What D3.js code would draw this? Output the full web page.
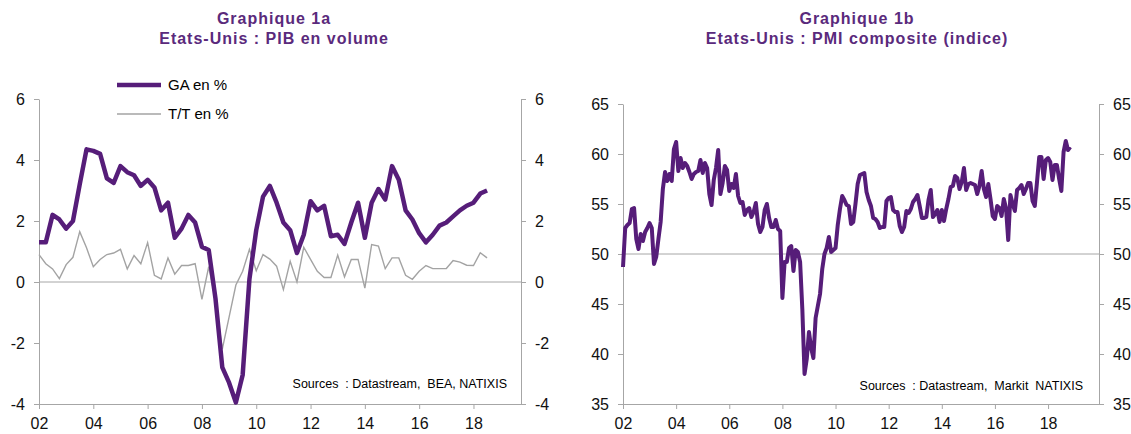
<!DOCTYPE html>
<html>
<head>
<meta charset="utf-8">
<script src="https://cdnjs.cloudflare.com/ajax/libs/d3/7.8.5/d3.min.js"></script>
<style>
  body { margin: 0; background: #fff; }
  svg text { font-family: "Liberation Sans", Arial, sans-serif; }
  .axis path, .axis line { stroke: #a6a6a6; stroke-width: 1; }
  .axis text { font-size: 16px; fill: #111; }
</style>
</head>
<body>
<div id="main"></div>
<script>
// x ticks (both charts), every 2 years
var yearTicks = [2002, 2004, 2006, 2008, 2010, 2012, 2014, 2016, 2018]

// Graphique 1a : quarterly, 2002Q1 -> 2018Q3
var gaValues = [
  1.3, 1.3, 2.2, 2.05,
  1.75, 2.0, 3.2, 4.35,
  4.3, 4.2, 3.4, 3.25,
  3.8, 3.6, 3.5, 3.15,
  3.35, 3.1, 2.35, 2.6,
  1.45, 1.75, 2.2, 1.95,
  1.15, 1.05, -0.55, -2.8,
  -3.3, -3.95, -3.05, 0.1,
  1.7, 2.8, 3.15, 2.6,
  1.95, 1.7, 0.95, 1.55,
  2.65, 2.35, 2.5, 1.5,
  1.55, 1.25, 1.95, 2.6,
  1.45, 2.6, 3.05, 2.7,
  3.8, 3.35, 2.35, 2.05,
  1.6, 1.3, 1.55, 1.85,
  1.95, 2.15, 2.35, 2.5,
  2.6, 2.9, 3.0
]
var ttValues = [
  0.9, 0.6, 0.43, 0.11,
  0.57, 0.81, 1.65, 1.12,
  0.5, 0.74, 0.9, 0.95,
  1.07, 0.43, 0.87, 0.6,
  1.29, 0.22, 0.1, 0.79,
  0.26, 0.54, 0.54, 0.6,
  -0.57, 0.5, -0.6, -2.2,
  -1.15, -0.1, 0.35, 1.07,
  0.37, 0.9, 0.75, 0.52,
  -0.25, 0.68, 0.0, 1.14,
  0.74, 0.35, 0.15, 0.15,
  0.88, 0.17, 0.74, 0.74,
  -0.2, 1.23, 1.18, 0.44,
  0.79, 0.79, 0.22, 0.09,
  0.35, 0.54, 0.44, 0.44,
  0.44, 0.7, 0.65, 0.55,
  0.54, 0.96, 0.79
]
var leftTicks = [-4, -2, 0, 2, 4, 6]

// Graphique 1b : monthly, Jan 2002 -> Nov 2018
var pmiValues = [
  48.7, 52.6, 52.9, 53.1, 54.5, 54.6, 51.5, 50.5, 52.0, 51.3, 52.2, 52.6,
  53.1, 52.6, 49.0, 49.7, 51.5, 53.2, 56.5, 58.2, 57.3, 58.0, 57.3, 60.5,
  61.2, 58.3, 59.6, 58.6, 59.1, 58.8, 58.2, 57.5, 58.0, 58.2, 58.3, 59.4,
  58.1, 59.1, 58.6, 56.0, 54.9, 57.4, 58.6, 60.4, 56.0, 57.1, 58.8, 58.4,
  56.3, 57.0, 56.6, 58.0, 55.8, 55.1, 55.2, 53.9, 54.4, 54.6, 53.7, 54.2,
  55.1, 53.0, 52.2, 52.7, 54.4, 55.0, 53.6, 52.7, 52.7, 53.4, 52.5, 52.3,
  45.6, 49.2, 49.2, 50.6, 50.8, 48.3, 50.4, 50.2, 49.2, 44.5, 38.0, 39.5,
  42.2, 40.6, 39.6, 43.6, 44.8, 46.0, 48.5, 50.0, 50.6, 51.7, 50.2, 50.4,
  50.6, 52.9, 54.5, 55.8, 55.4, 54.9, 54.8, 53.0, 53.2, 55.0, 57.0, 57.9,
  58.0, 58.1, 56.2, 55.4, 54.8, 53.6, 53.5, 53.2, 52.6, 52.7, 52.7, 55.3,
  55.6, 55.7, 54.4, 54.2, 54.2, 52.8, 52.2, 52.7, 54.3, 54.1, 54.5, 55.2,
  55.5, 55.9, 54.8, 53.6, 53.6, 53.7, 55.4, 56.4, 53.7, 54.0, 54.4, 53.2,
  54.4, 53.3, 54.5, 55.5, 56.7, 56.8, 57.8, 57.6, 56.5, 57.2, 58.6, 56.4,
  57.0, 57.1, 57.0, 56.9, 56.0, 56.8, 58.3, 56.5, 55.7, 57.0, 55.5, 53.8,
  53.5, 54.8, 54.6, 53.8, 55.5, 54.6, 51.4, 55.9, 55.0, 54.3, 56.4, 56.6,
  56.9, 56.0, 56.5, 57.1, 57.1, 55.3, 54.8, 57.2, 59.7, 59.7, 57.5, 59.4,
  59.6, 59.2, 57.4, 58.9, 58.9, 57.5, 56.3, 60.2, 61.3, 60.4, 60.7
]
var rightTicks = [35, 40, 45, 50, 55, 60, 65]

var purple = "#561d79"
var titleColor = "#5a2a7c"

var SVG = d3.select("#main")
            .append("svg")
            .attr("width", 1131)
            .attr("height", 434)

var yearLabel = function(d){ return String(d).slice(2) }
var plainNum = function(d){ return String(d) }   // keep "-" not the unicode minus

function drawFrame(box, x, y, ticks){
  SVG.append("g")
     .attr("class", "axis")
     .attr("transform", "translate(0," + box.bottom + ")")
     .call(d3.axisBottom(x).tickValues(yearTicks).tickFormat(yearLabel)
             .tickSizeInner(5).tickSizeOuter(0).tickPadding(9))
  SVG.append("g")
     .attr("class", "axis")
     .attr("transform", "translate(" + box.left + ",0)")
     .call(d3.axisLeft(y).tickValues(ticks).tickFormat(plainNum)
             .tickSizeInner(5).tickSizeOuter(0).tickPadding(9))
  SVG.append("g")
     .attr("class", "axis")
     .attr("transform", "translate(" + box.right + ",0)")
     .call(d3.axisRight(y).tickValues(ticks).tickFormat(plainNum)
             .tickSizeInner(5).tickSizeOuter(0).tickPadding(9))
}

function title(cx, l1, l2){
  var t = SVG.append("text")
             .attr("text-anchor", "middle")
             .style("font-size", "16px")
             .style("font-weight", "bold")
             .style("letter-spacing", "1px")
             .style("fill", titleColor)
  t.append("tspan").attr("x", cx).attr("y", 24).text(l1)
  t.append("tspan").attr("x", cx).attr("y", 44).text(l2)
}

//Chart 1a
var boxA = {left: 39, right: 521, top: 99, bottom: 404}
var xA = d3.scaleLinear().domain([2002, 2019.75]).range([boxA.left, boxA.right])
var yA = d3.scaleLinear().domain([-4, 6]).range([boxA.bottom, boxA.top])

drawFrame(boxA, xA, yA, leftTicks)

SVG.append("line")
   .attr("x1", xA(2002)).attr("x2", xA(2019.75))
   .attr("y1", yA(0)).attr("y2", yA(0))
   .attr("stroke", "#a6a6a6")

var quarterLine = d3.line()
                    .x(function(d, i){ return xA(2002 + i / 4) })
                    .y(function(d){ return yA(d) })

SVG.append("path")
   .datum(ttValues)
   .attr("d", quarterLine)
   .attr("fill", "none")
   .attr("stroke", "#a3a3a3")
   .attr("stroke-width", 1.4)

SVG.append("path")
   .datum(gaValues)
   .attr("d", quarterLine)
   .attr("fill", "none")
   .attr("stroke", purple)
   .attr("stroke-width", 4.5)
   .attr("stroke-linejoin", "round")

// legend
SVG.append("line").attr("x1", 117).attr("x2", 161).attr("y1", 85).attr("y2", 85)
   .attr("stroke", purple).attr("stroke-width", 4.5)
SVG.append("text").attr("x", 168).attr("y", 90).style("font-size", "15px").text("GA en %")
SVG.append("line").attr("x1", 117).attr("x2", 161).attr("y1", 114).attr("y2", 114)
   .attr("stroke", "#a3a3a3").attr("stroke-width", 1.4)
SVG.append("text").attr("x", 168).attr("y", 119).style("font-size", "15px").text("T/T en %")

SVG.append("text")
   .attr("x", 507).attr("y", 388)
   .attr("text-anchor", "end")
   .style("font-size", "12.5px")
   .style("white-space", "pre")
   .text("Sources  : Datastream,  BEA, NATIXIS")

title(274, "Graphique 1a", "Etats-Unis : PIB en volume")

//Chart 1b
var boxB = {left: 623, right: 1099, top: 104, bottom: 404}
var xB = d3.scaleLinear().domain([2002, 2019.917]).range([boxB.left, boxB.right])
var yB = d3.scaleLinear().domain([35, 65]).range([boxB.bottom, boxB.top])

drawFrame(boxB, xB, yB, rightTicks)

SVG.append("line")
   .attr("x1", xB(2002)).attr("x2", xB(2019.917))
   .attr("y1", yB(50)).attr("y2", yB(50))
   .attr("stroke", "#a6a6a6")

var monthLine = d3.line()
                  .x(function(d, i){ return xB(2002 + i / 12) })
                  .y(function(d){ return yB(d) })

SVG.append("path")
   .datum(pmiValues)
   .attr("d", monthLine)
   .attr("fill", "none")
   .attr("stroke", purple)
   .attr("stroke-width", 4)
   .attr("stroke-linejoin", "round")

SVG.append("text")
   .attr("x", 1083).attr("y", 390)
   .attr("text-anchor", "end")
   .style("font-size", "12.5px")
   .style("white-space", "pre")
   .text("Sources  : Datastream,  Markit  NATIXIS")

title(857, "Graphique 1b", "Etats-Unis : PMI composite (indice)")
</script>
</body>
</html>
